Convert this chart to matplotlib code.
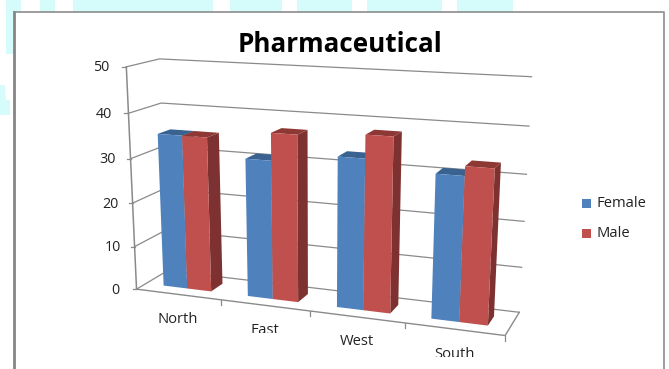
import matplotlib
matplotlib.use('Agg')
import matplotlib.pyplot as plt
from matplotlib.patches import Polygon, Rectangle
import numpy as np

# chart data
categories = ['North', 'East', 'West', 'South']
series_names = ['Female', 'Male']
female = [35, 31, 33, 31]
male = [35, 37, 38, 33]
y_ticks = [0, 10, 20, 30, 40, 50]
y_max = 50

blue = ('#4F81BD', '#3A6291', '#3A6291')
red = ('#C0504D', '#8E3835', '#7D3130')
grid_color = '#8A8A8A'
cyan = '#D6FBFB'

# pixel positions of known plot box corners, used to fit the 3d projection
# (u across categories, v into the page, z up, all 0..1) -> (px, py)
box_uvz = [(0, 0, 0), (0, 0, 1), (0, 0, .8), (0, 0, .4), (1, 0, 0), (1, 1, 0),
           (1, 1, 1), (1, 1, .8), (1, 1, .4), (0, 1, 1), (0, 1, .8), (0, 1, 0)]
box_px = [(137, 289), (126, 67), (128, 113), (133, 203), (505, 336), (519, 312),
          (532, 77), (528, 126), (525, 221), (160, 59), (161, 103), (167, 271)]


def fit_projection(uvz, px):
    rows = []
    rhs = []
    for (u, v, z), (x, y) in zip(uvz, px):
        rows.append([u, v, z, 1, 0, 0, 0, 0, -u*x, -v*x, -z*x])
        rhs.append(x)
        rows.append([0, 0, 0, 0, u, v, z, 1, -u*y, -v*y, -z*y])
        rhs.append(y)
    m = np.linalg.lstsq(np.array(rows, float), np.array(rhs, float), rcond=None)[0]
    return np.append(m, 1).reshape(3, 4)


P = fit_projection(box_uvz, box_px)


def proj(u, v, z):
    w = P @ np.array([u, v, z, 1.0])
    return w[0]/w[2], w[1]/w[2]


def draw_bar(ax, u0, u1, value, colors, zorder):
    front, top, side = colors
    v0, v1 = 0.3, 0.7
    z = value/y_max
    ax.add_patch(Polygon([proj(u1, v0, 0), proj(u1, v1, 0), proj(u1, v1, z), proj(u1, v0, z)],
                         fc=side, ec='none', zorder=zorder))
    ax.add_patch(Polygon([proj(u0, v0, z), proj(u1, v0, z), proj(u1, v1, z), proj(u0, v1, z)],
                         fc=top, ec='none', zorder=zorder))
    ax.add_patch(Polygon([proj(u0, v0, 0), proj(u1, v0, 0), proj(u1, v0, z), proj(u0, v0, z)],
                         fc=front, ec='none', zorder=zorder))


fig = plt.figure(figsize=(6.69, 3.69), dpi=100)
ax = fig.add_axes([0, 0, 1, 1])
ax.set_xlim(0, 669)
ax.set_ylim(369, 0)
ax.axis('off')

# page background strip above the chart box
for x0, x1 in [(6, 21), (40, 55), (73, 213), (230, 282), (297, 352), (367, 442), (457, 513)]:
    ax.add_patch(Rectangle((x0, 0), x1-x0, 12, fc=cyan, ec='none'))
ax.add_patch(Polygon([(0, 85), (5, 85), (6, 100), (10, 100), (10, 115), (0, 115)], fc=cyan, ec='none'))
ax.add_patch(Rectangle((6, 12), 7, 42, fc=cyan, ec='none'))
ax.plot([14, 14], [369, 12], color='#858585', lw=2.0)
ax.plot([14, 664, 664], [12, 12, 369], color='#8C8C8C', lw=1.2)

# walls
for t in y_ticks:
    z = t/y_max
    pts = [proj(0, 0, z), proj(0, 1, z), proj(1, 1, z)]
    ax.plot(*zip(*pts), color=grid_color, lw=0.9, zorder=1)
    tick = proj(0, 0, z)
    ax.plot([tick[0]-4, tick[0]], [tick[1], tick[1]], color=grid_color, lw=0.9, zorder=1)
    ax.text(tick[0]-21-4*z, tick[1]+1, str(t), ha='center', va='center', fontsize=10.3,
            family='Open Sans', color='#222222')

ax.plot(*zip(proj(0, 0, 0), proj(0, 0, 1)), color=grid_color, lw=1.1, zorder=1)
ax.plot(*zip(proj(0, 0, 0), proj(1, 0, 0), proj(1, 1, 0)), color=grid_color, lw=1.0, zorder=1)

# bars
n = len(categories)
w = 1/3.5
label_bottom = [326, 332.5, 348, 357]
for i in range(n):
    u = (i + 0.75*w)/n
    draw_bar(ax, u, u + w/n, female[i], blue, 3+i)
    draw_bar(ax, u + w/n, u + 2*w/n, male[i], red, 3+i)
    tx, ty = proj((i+1)/n, 0, 0)
    ax.plot([tx, tx], [ty, ty+5], color=grid_color, lw=0.9, zorder=1)
    cx, cy = proj((i+0.5)/n, 0, 0)
    label = ax.text(cx, cy+25, categories[i], ha='center', va='center', fontsize=10.6,
                    family='Open Sans', color='#222222')
    # the lower edge of the axis labels is cut off
    label.set_clip_on(True)
    label.set_clip_path(Rectangle((cx-40, cy), 80, label_bottom[i]-cy, transform=ax.transData))

ax.text(339.5, 44, 'Pharmaceutical', ha='center', va='center', fontsize=18.7,
        family='Open Sans', fontweight='bold', color='black')

# legend
for name, c, y in zip(series_names, [blue[0], red[0]], [203.5, 233.5]):
    ax.add_patch(Rectangle((582, y-4.5), 9, 9, fc=c, ec='none'))
    ax.text(596, y, name, ha='left', va='center', fontsize=10.6, family='Open Sans', color='#222222')

fig.savefig('out.png', dpi=100)
